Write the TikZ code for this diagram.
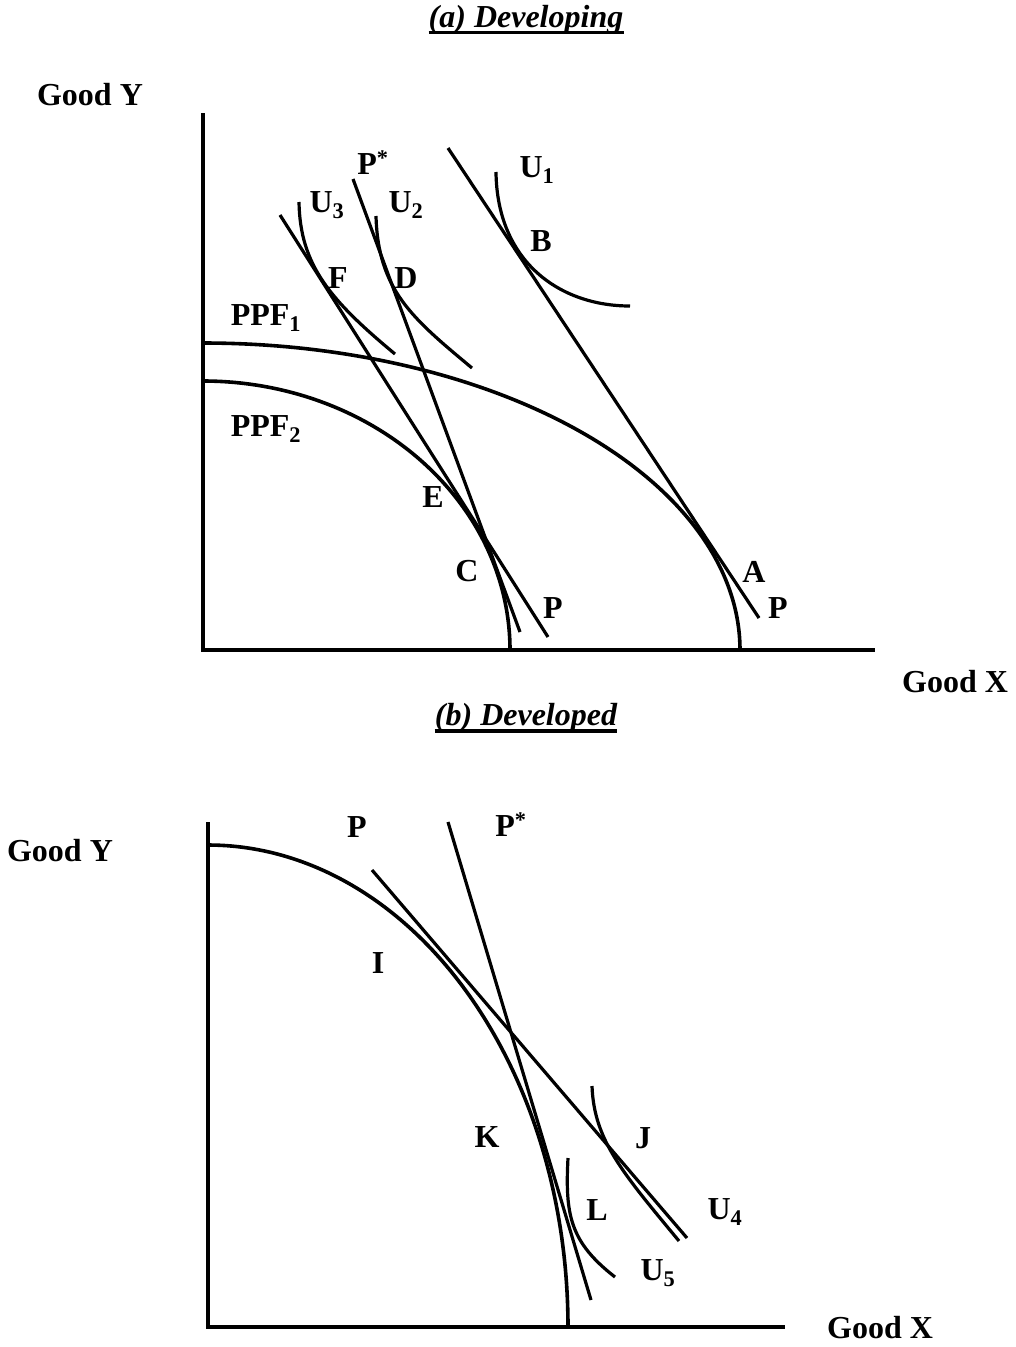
\documentclass[tikz,border=0pt]{standalone}
\usepackage{fontspec}
\setmainfont{Liberation Serif}

\begin{document}
\begin{tikzpicture}[
    x=1pt, y=-1pt,
    font=\fontsize{32}{36}\selectfont\bfseries,
    axis/.style={line width=4.4pt},
    ppf/.style={line width=3.6pt},
    price/.style={line width=3.2pt},
    indiff/.style={line width=3.2pt},
    lbl/.style={inner sep=0pt},
    ttl/.style={inner sep=0pt,font=\fontsize{32}{36}\selectfont\bfseries\itshape},
    uline/.style={line width=3.6pt}
  ]
    \useasboundingbox (0,0) rectangle (1015,1347);

    % (a) developing
    \node[ttl] (ttlA) at (526,20) {(a) Developing};
    \draw[uline] ([yshift=-5pt]ttlA.base west) -- ([yshift=-5pt]ttlA.base east);
    \node[lbl] (goodYA) at (90,95) {Good Y};
    \node[lbl] (goodXA) at (955,682) {Good X};

    \coordinate (oA) at (203,650);
    \coordinate (yA) at (203,113);
    \coordinate (xA) at (875,650);
    \draw[axis] (yA) -- (oA) -- (xA);

    \draw[ppf] plot[domain=0:90,samples=90,smooth] ({203+537*cos(\x)},{650-307*sin(\x)});
    \draw[ppf] plot[domain=0:90,samples=90,smooth] ({203+307*cos(\x)},{650-269*sin(\x)});

    \coordinate (pA1) at (448,148);
    \coordinate (pA2) at (759,618);
    \coordinate (pE1) at (280,215);
    \coordinate (pE2) at (548,637);
    \coordinate (pS1) at (353,179);
    \coordinate (pS2) at (520,632);
    \draw[price] (pA1) -- (pA2);
    \draw[price] (pE1) -- (pE2);
    \draw[price] (pS1) -- (pS2);

    \draw[indiff] (496,172) .. controls (497,262) and (560,306) .. (630,306);
    \draw[indiff] (299,202) .. controls (300,265) and (330,300) .. (395,354);
    \draw[indiff] (376,216) .. controls (378,290) and (412,318) .. (472,368);

    \node[lbl] (lU1) at (537,170) {U\textsubscript{1}};
    \node[lbl] (lPsA) at (373,163) {P\textsuperscript{*}};
    \node[lbl] (lU3) at (327,205) {U\textsubscript{3}};
    \node[lbl] (lU2) at (406,205) {U\textsubscript{2}};
    \node[lbl] (lB) at (541,241) {B};
    \node[lbl] (lF) at (338,278) {F};
    \node[lbl] (lD) at (406,278) {D};
    \node[lbl] (lPPF1) at (266,318) {PPF\textsubscript{1}};
    \node[lbl] (lPPF2) at (266,429) {PPF\textsubscript{2}};
    \node[lbl] (lE) at (433,497) {E};
    \node[lbl] (lC) at (467,571) {C};
    \node[lbl] (lPE) at (553,608) {P};
    \node[lbl] (lA) at (754,572) {A};
    \node[lbl] (lPA) at (778,608) {P};

    % (b) developed
    \node[ttl] (ttlB) at (526,718) {(b) Developed};
    \draw[uline] ([yshift=-5pt]ttlB.base west) -- ([yshift=-5pt]ttlB.base east);
    \node[lbl] (goodYB) at (60,851) {Good Y};
    \node[lbl] (goodXB) at (880,1328) {Good X};

    \coordinate (oB) at (208,1327);
    \coordinate (yB) at (208,822);
    \coordinate (xB) at (785,1327);
    \draw[axis] (yB) -- (oB) -- (xB);

    \draw[ppf] plot[domain=0:90,samples=90,smooth] ({208+360*cos(\x)},{1327-482*sin(\x)});

    \coordinate (pB1) at (372,870);
    \coordinate (pB2) at (687,1238);
    \coordinate (pSB1) at (448,822);
    \coordinate (pSB2) at (591,1300);
    \draw[price] (pB1) -- (pB2);
    \draw[price] (pSB1) -- (pSB2);

    \draw[indiff] (592,1086) .. controls (594,1140) and (622,1172) .. (679,1241);
    \draw[indiff] (568,1158) .. controls (565,1215) and (570,1242) .. (615,1277);

    \node[lbl] (lPB) at (357,827) {P};
    \node[lbl] (lPsB) at (511,825) {P\textsuperscript{*}};
    \node[lbl] (lI) at (378,963) {I};
    \node[lbl] (lK) at (487,1137) {K};
    \node[lbl] (lJ) at (643,1138) {J};
    \node[lbl] (lL) at (597,1210) {L};
    \node[lbl] (lU4) at (725,1212) {U\textsubscript{4}};
    \node[lbl] (lU5) at (658,1273) {U\textsubscript{5}};
\end{tikzpicture}
\end{document}
